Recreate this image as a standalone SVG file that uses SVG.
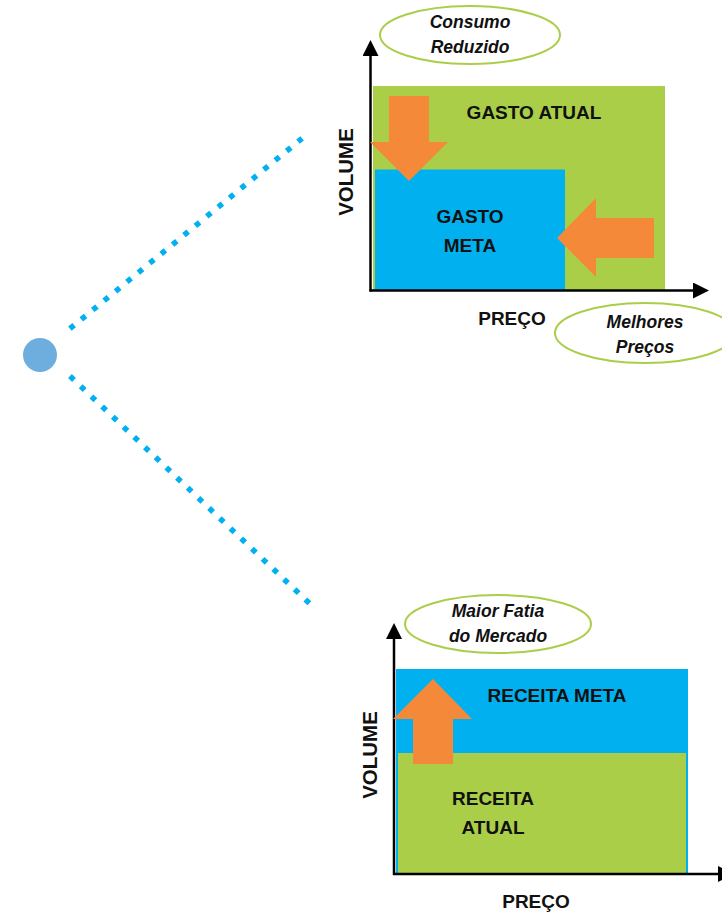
<svg xmlns="http://www.w3.org/2000/svg" width="722" height="914" viewBox="0 0 722 914">
  <style>
    .lbl { font-family: "Liberation Sans", Arial, sans-serif; font-weight: bold; font-size: 19px; fill: #111; text-anchor: middle; }
    .axt { font-size: 20.5px; }
    .it { font-family: "Liberation Sans", Arial, sans-serif; font-weight: bold; font-style: italic; font-size: 17.5px; fill: #111; text-anchor: middle; }
    .axis { stroke: #000; stroke-width: 2.5; fill: none; }
    .green { fill: #AACE48; }
    .blue { fill: #00B0EF; }
    .orange { fill: #F4893A; }
    .oval { fill: #fff; stroke: #A9CF4A; stroke-width: 2; }
    .dots { stroke: #00B0F0; stroke-width: 5.5; stroke-dasharray: 5.5 9.25; fill: none; }
  </style>
  <defs>
    <marker id="ah" markerUnits="userSpaceOnUse" markerWidth="16" markerHeight="16" viewBox="0 0 16 16" refX="0" refY="8" orient="auto">
      <path d="M0,0 L16,8 L0,16 z" fill="#000"/>
    </marker>
  </defs>
  <rect width="722" height="914" fill="#fff"/>

  <g id="connectors">
    <line class="dots" x1="69.9" y1="328.7" x2="302.1" y2="138.3"/>
    <line class="dots" x1="70" y1="376.1" x2="310" y2="603.9"/>
  </g>

  <g id="origin">
    <circle cx="40" cy="355" r="17" fill="#6DAEDE"/>
  </g>

  <g id="chart-gasto">
    <rect class="green" x="373" y="86" width="292" height="204"/>
    <rect class="blue" x="375" y="169.5" width="190" height="120.5"/>
    <line class="axis" x1="370.5" y1="291.5" x2="370.5" y2="56" marker-end="url(#ah)"/>
    <line class="axis" x1="369.5" y1="290.5" x2="693" y2="290.5" marker-end="url(#ah)"/>
    <polygon class="orange" points="389,96 429,96 429,142 448,142 409,181 370,142 389,142"/>
    <polygon class="orange" points="654,218 654,258 596,258 596,277 557,238 596,198 596,218"/>
    <text class="lbl" x="534" y="119">GASTO ATUAL</text>
    <text class="lbl" x="470" y="223">GASTO</text>
    <text class="lbl" x="470" y="252">META</text>
    <text class="lbl axt" transform="translate(353,172) rotate(-90)">VOLUME</text>
    <text class="lbl" x="512" y="325">PREÇO</text>
  </g>

  <g id="oval-consumo">
    <ellipse class="oval" cx="470" cy="35" rx="90" ry="29"/>
    <text class="it" x="470" y="28">Consumo</text>
    <text class="it" x="470" y="53">Reduzido</text>
  </g>

  <g id="oval-precos">
    <ellipse class="oval" cx="645" cy="333" rx="90" ry="30"/>
    <text class="it" x="645" y="328">Melhores</text>
    <text class="it" x="645" y="353">Preços</text>
  </g>

  <g id="chart-receita">
    <rect class="blue" x="396" y="669" width="292" height="204"/>
    <rect class="green" x="398" y="753" width="288" height="120"/>
    <line class="axis" x1="394" y1="875" x2="394" y2="639" marker-end="url(#ah)"/>
    <line class="axis" x1="393" y1="874" x2="718" y2="874" marker-end="url(#ah)"/>
    <polygon class="orange" points="413,764 453,764 453,719 472,719 433,679 393,719 413,719"/>
    <text class="lbl" x="557" y="702">RECEITA META</text>
    <text class="lbl" x="493" y="805">RECEITA</text>
    <text class="lbl" x="493" y="834">ATUAL</text>
    <text class="lbl axt" transform="translate(377,755) rotate(-90)">VOLUME</text>
    <text class="lbl" x="536" y="908">PREÇO</text>
  </g>

  <g id="oval-fatia">
    <ellipse class="oval" cx="498" cy="624" rx="93" ry="29"/>
    <text class="it" x="498" y="617">Maior Fatia</text>
    <text class="it" x="498" y="642">do Mercado</text>
  </g>
</svg>
